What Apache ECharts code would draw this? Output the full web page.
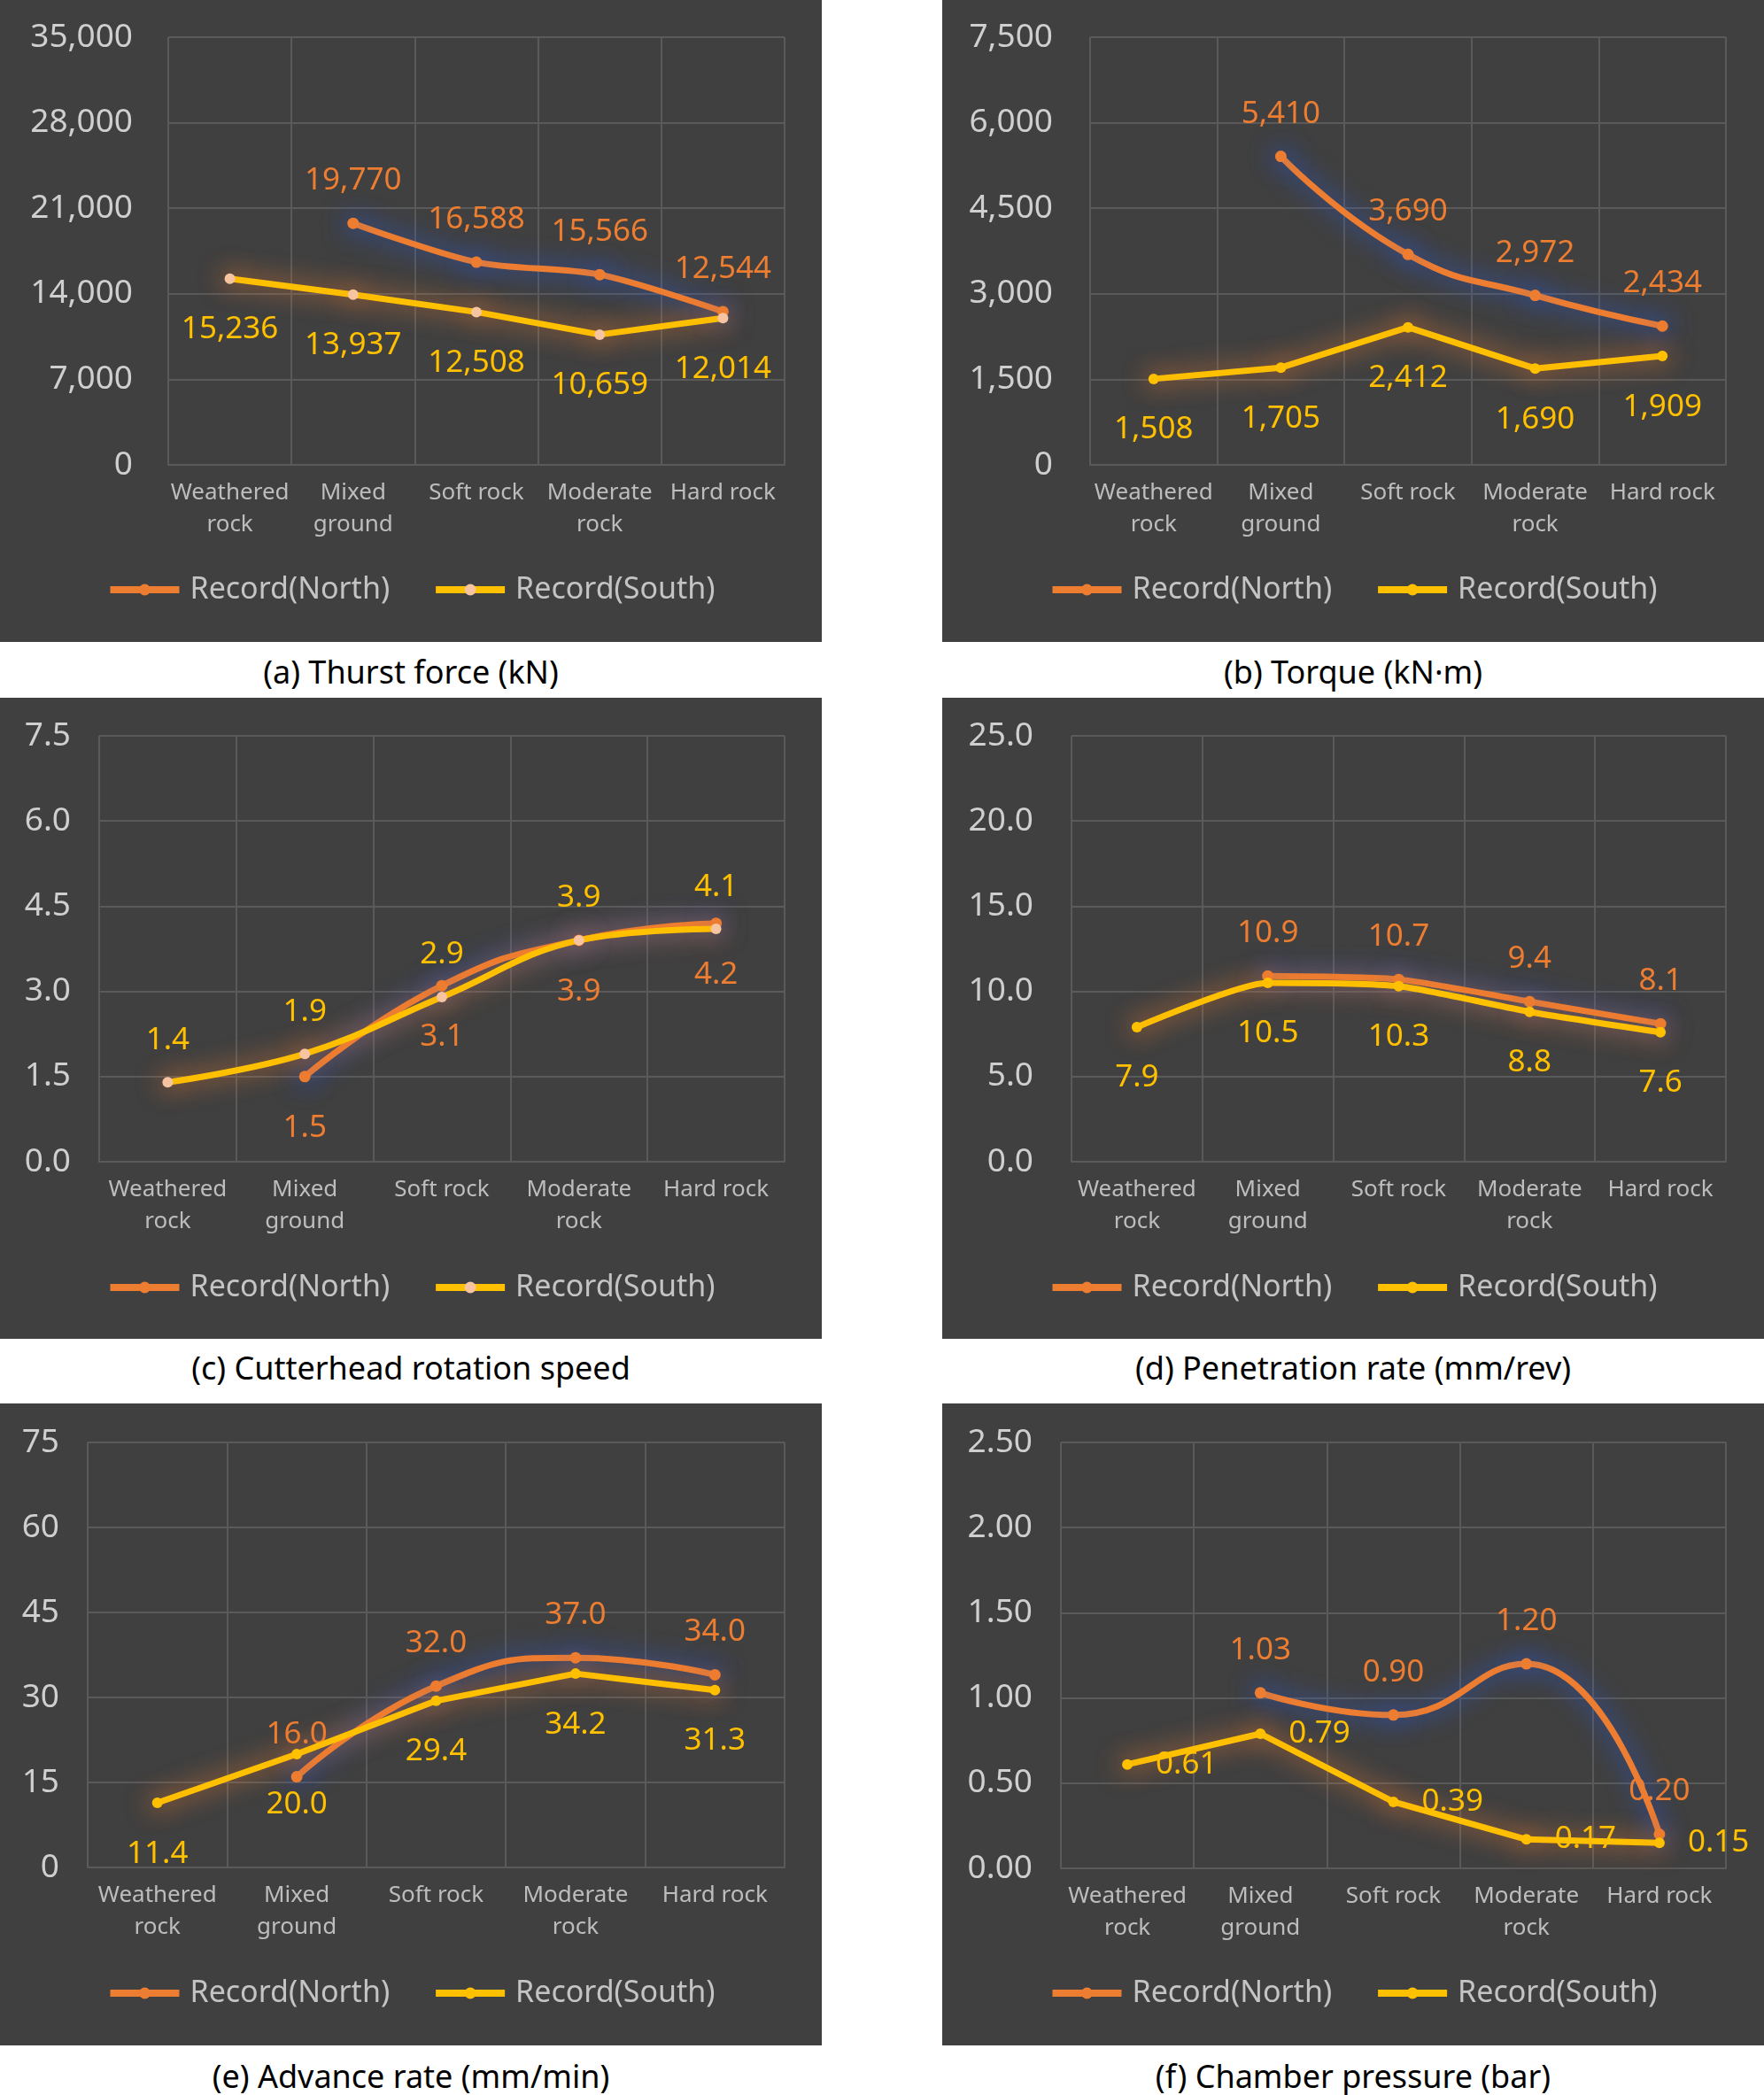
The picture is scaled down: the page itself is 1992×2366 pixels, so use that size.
<!DOCTYPE html>
<html>
<head>
<meta charset="utf-8">
<script src="https://cdn.jsdelivr.net/npm/echarts@6/dist/echarts.min.js"></script>
<style>
html,body{margin:0;padding:0;background:#ffffff;}
body{width:1992px;height:2366px;position:relative;overflow:hidden;font-family:"Noto Sans",sans-serif;}
.panel{position:absolute;width:928px;}
.cap{position:absolute;width:928px;text-align:center;font-size:36px;line-height:40px;color:#000;font-family:"Noto Sans",sans-serif;}
</style>
</head>
<body>
<div id="pa" class="panel" style="left:0px;top:0px;height:725px;"></div>
<div id="pb" class="panel" style="left:1064px;top:0px;height:725px;"></div>
<div id="pc" class="panel" style="left:0px;top:788px;height:724px;"></div>
<div id="pd" class="panel" style="left:1064px;top:788px;height:724px;"></div>
<div id="pe" class="panel" style="left:0px;top:1585px;height:725px;"></div>
<div id="pf" class="panel" style="left:1064px;top:1585px;height:725px;"></div>
<div class="cap" id="ca" style="left:0px;top:739px;"></div>
<div class="cap" id="cb" style="left:1064px;top:739px;"></div>
<div class="cap" id="cc" style="left:0px;top:1525px;"></div>
<div class="cap" id="cd" style="left:1064px;top:1525px;"></div>
<div class="cap" id="ce" style="left:0px;top:2325px;"></div>
<div class="cap" id="cf" style="left:1064px;top:2325px;"></div>
<script>
// ---- data ----
const categories = ['Weathered\nrock', 'Mixed\nground', 'Soft rock', 'Moderate\nrock', 'Hard rock'];
const seriesNames = ['Record(North)', 'Record(South)'];
const captions = ['(a) Thurst force (kN)', '(b) Torque (kN·m)', '(c) Cutterhead rotation speed',
                  '(d) Penetration rate (mm/rev)', '(e) Advance rate (mm/min)', '(f) Chamber pressure (bar)'];

const thrustNorth = [null, 19770, 16588, 15566, 12544];
const thrustSouth = [15236, 13937, 12508, 10659, 12014];
const torqueNorth = [null, 5410, 3690, 2972, 2434];
const torqueSouth = [1508, 1705, 2412, 1690, 1909];
const speedNorth = [null, 1.5, 3.1, 3.9, 4.2];
const speedSouth = [1.4, 1.9, 2.9, 3.9, 4.1];
const penetrationNorth = [null, 10.9, 10.7, 9.4, 8.1];
const penetrationSouth = [7.9, 10.5, 10.3, 8.8, 7.6];
const advanceNorth = [null, 16.0, 32.0, 37.0, 34.0];
const advanceSouth = [11.4, 20.0, 29.4, 34.2, 31.3];
const pressureNorth = [null, 1.03, 0.90, 1.20, 0.20];
const pressureSouth = [0.61, 0.79, 0.39, 0.17, 0.15];

// y-axis tick settings (max, step, decimals)
const axisMax = [35000, 7500, 7.5, 25, 75, 2.5];
const axisStep = [7000, 1500, 1.5, 5, 15, 0.5];
const tickDecimals = [0, 0, 1, 1, 0, 2];
const labelDecimals = [0, 0, 1, 1, 1, 2];

// ---- styling / layout ----
const ORANGE = '#ED7D31', YELLOW = '#FFC000', PEACH = '#F7C4A2';
const GRIDC = '#5a5a5a';
function fmt(v, d, comma) {
  if (v === null || v === undefined) return '';
  if (comma) return Math.round(v).toLocaleString('en-US');
  return Number(v).toFixed(d);
}
function dist(pos) {
  if (pos === 'bottom') return 34;
  if (pos === 'right') return 26;
  return 24;
}
const panels = [
  {id:'pa', cap:'ca', north:thrustNorth, south:thrustSouth, gl:190, gr:42, gt:42, gb:200, lm:40, comma:true,
   smoothN:0.3, smoothS:false, southMarker:PEACH, posN:'top', posS:'bottom'},
  {id:'pb', cap:'cb', north:torqueNorth, south:torqueSouth, gl:167, gr:43, gt:42, gb:200, lm:42, comma:true,
   smoothN:0.5, smoothS:false, southMarker:YELLOW, posN:'top', posS:'bottom'},
  {id:'pc', cap:'cc', north:speedNorth, south:speedSouth, gl:112, gr:42, gt:43, gb:200, lm:32, comma:false,
   smoothN:0.5, smoothS:0.4, southMarker:PEACH, posN:'bottom', posS:'top'},
  {id:'pd', cap:'cd', north:penetrationNorth, south:penetrationSouth, gl:146, gr:43, gt:43, gb:200, lm:43, comma:false,
   smoothN:0.2, smoothS:0.2, southMarker:YELLOW, posN:'top', posS:'bottom'},
  {id:'pe', cap:'ce', north:advanceNorth, south:advanceSouth, gl:99, gr:42, gt:44, gb:201, lm:32, comma:false,
   smoothN:0.5, smoothS:false, southMarker:YELLOW, posN:'top', posS:'bottom'},
  {id:'pf', cap:'cf', north:pressureNorth, south:pressureSouth, gl:134, gr:43, gt:44, gb:200, lm:32, comma:false,
   smoothN:0.5, smoothS:false, southMarker:YELLOW, posN:'top', posS:'right'}
];

panels.forEach(function (p, i) {
  document.getElementById(p.cap).textContent = captions[i];
  const chart = echarts.init(document.getElementById(p.id), null, {renderer: 'canvas'});
  const ld = labelDecimals[i], td = tickDecimals[i];
  const option = {
    backgroundColor: '#404040',
    animation: false,
    textStyle: {fontFamily: 'Noto Sans'},
    grid: {left: p.gl, right: p.gr, top: p.gt, bottom: p.gb},
    legend: {
      data: seriesNames, top: 641, left: 'center',
      itemWidth: 78, itemHeight: 16, itemGap: 48,
      textStyle: {color: '#c4c4c4', fontSize: 34, lineHeight: 40, padding: [0, 0, 0, 7]},
      lineStyle: {width: 8, shadowBlur: 0},
      itemStyle: {shadowBlur: 0}
    },
    xAxis: {
      type: 'category', data: categories, boundaryGap: true,
      axisTick: {show: false},
      axisLine: {lineStyle: {color: GRIDC, width: 2}},
      splitLine: {show: true, lineStyle: {color: GRIDC, width: 2}},
      axisLabel: {interval: 0, color: '#bdbdbd', fontSize: 26, lineHeight: 36, margin: 14}
    },
    yAxis: {
      type: 'value', min: 0, max: axisMax[i], interval: axisStep[i],
      axisLine: {show: false}, axisTick: {show: false},
      splitLine: {lineStyle: {color: GRIDC, width: 2}},
      axisLabel: {color: '#cfcfcf', fontSize: 37, margin: p.lm,
        formatter: function (v) { return fmt(v, td, p.comma); }}
    },
    series: [
      {
        name: seriesNames[0], type: 'line', data: p.north, smooth: p.smoothN,
        symbol: 'circle', symbolSize: 13, showAllSymbol: true,
        lineStyle: {color: ORANGE, width: 7, shadowColor: 'rgba(40,90,220,1)', shadowBlur: 28},
        itemStyle: {color: ORANGE, shadowColor: 'rgba(40,90,220,1)', shadowBlur: 30},
        label: {show: true, position: p.posN, distance: dist(p.posN), color: ORANGE, fontSize: 35,
          formatter: function (d) { return fmt(d.value, ld, p.comma); }},
        emphasis: {disabled: true}, z: 3
      },
      {
        name: seriesNames[1], type: 'line', data: p.south, smooth: p.smoothS,
        symbol: 'circle', symbolSize: 12, showAllSymbol: true,
        lineStyle: {color: YELLOW, width: 7, shadowColor: 'rgba(237,125,49,1)', shadowBlur: 28},
        itemStyle: {color: p.southMarker, shadowColor: 'rgba(237,125,49,1)', shadowBlur: 30},
        label: {show: true, position: p.posS, distance: dist(p.posS), color: YELLOW, fontSize: 35,
          formatter: function (d) { return fmt(d.value, ld, p.comma); }},
        emphasis: {disabled: true}, z: 4
      }
    ]
  };
  chart.setOption(option);
});
</script>
</body>
</html>
